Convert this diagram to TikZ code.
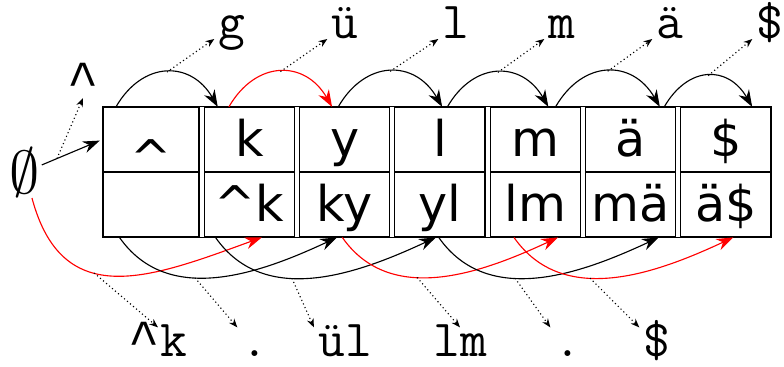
\documentclass[tikz,border=0pt]{standalone}
\usepackage{fontspec}
\usetikzlibrary{arrows.meta, positioning}
\newfontfamily\cellfont{DejaVu Sans}
\newfontfamily\caretfont{Liberation Mono}
\newcommand{\ttcaret}{{\caretfont\textasciicircum}}

\begin{document}
\begin{tikzpicture}[
    x=0.025cm, y=-0.025cm,
    cell/.style={rectangle, draw, line width=0.9pt,
        minimum width=2.25cm, minimum height=1.6cm, inner sep=0pt,
        text height=25pt, text depth=1pt,
        font=\cellfont\fontsize{35}{40}\selectfont},
    cell-first/.style={cell, minimum width=2.4cm},
    out-label/.style={inner sep=0.1cm, text height=18pt, text depth=7pt,
        font=\ttfamily\fontsize{37}{42}\selectfont},
    trans/.style={-{Stealth[length=0.42cm, width=0.3cm]}, line width=0.8pt},
    trans-red/.style={trans, red},
    emit/.style={-{Stealth[length=0.22cm, width=0.17cm]}, dotted, line width=0.8pt},
]
    \useasboundingbox (0,0) rectangle (784,367);

    % ---- NODES: unigram row ----
    \node[cell-first] (uni0) at (151,139.5) {\raisebox{-0.38em}{\textasciicircum}};
    \node[cell, right=0.1cm of uni0] (uni1) {k};
    \node[cell, right=0.1cm of uni1] (uni2) {y};
    \node[cell, right=0.1cm of uni2] (uni3) {l};
    \node[cell, right=0.1cm of uni3] (uni4) {m};
    \node[cell, right=0.1cm of uni4] (uni5) {ä};
    \node[cell, right=0.1cm of uni5] (uni6) {\$};

    % ---- NODES: bigram row ----
    \node[cell-first, below=0cm of uni0] (bi0) {};
    \node[cell, below=0cm of uni1] (bi1) {\textasciicircum k};
    \node[cell, below=0cm of uni2] (bi2) {ky};
    \node[cell, below=0cm of uni3] (bi3) {yl};
    \node[cell, below=0cm of uni4] (bi4) {lm};
    \node[cell, below=0cm of uni5] (bi5) {mä};
    \node[cell, below=0cm of uni6] (bi6) {ä\$};

    \draw[line width=0.9pt] (uni0.north west) rectangle (bi6.south east);

    % ---- NODES: start state and emitted symbols ----
    \node[inner sep=1pt] (empty) at (25,172) {\scalebox{1.73}{\Huge$\emptyset$}};

    \node[out-label, anchor=base] (out0) at (83,98) {\ttcaret};
    \node[out-label, anchor=base] (out1) at (232,39) {g};
    \node[out-label, anchor=base] (out2) at (345,39) {ü};
    \node[out-label, anchor=base] (out3) at (456,39) {l};
    \node[out-label, anchor=base] (out4) at (562,39) {m};
    \node[out-label, anchor=base] (out5) at (670,39) {ä};
    \node[out-label, anchor=base] (out6) at (770,39) {\$};

    \node[out-label, anchor=base] (bout1) at (158,357) {\ttcaret k};
    \node[out-label, anchor=base] (bout2) at (255,357) {.};
    \node[out-label, anchor=base] (bout3) at (345,357) {ül};
    \node[out-label, anchor=base] (bout4) at (460,357) {lm};
    \node[out-label, anchor=base] (bout5) at (568,357) {.};
    \node[out-label, anchor=base] (bout6) at (657,357) {\$};

    % ---- ARROWS: start ----
    \draw[trans, shorten >=2pt] (empty) -- coordinate[pos=.25] (s0) (uni0.west);

    % ---- ARROWS: transitions above the table ----
    \draw[trans] (uni0.137) to[out=60, in=120, looseness=1.35] coordinate[pos=.5] (t1) (uni1.134);
    \draw[trans-red] (uni1.122) to[out=60, in=120, looseness=1.35] coordinate[pos=.5] (t2) (uni2.111);
    \draw[trans] (uni2.101) to[out=60, in=120, looseness=1.35] coordinate[pos=.5] (t3) (uni3.86);
    \draw[trans] (uni3.77) to[out=60, in=120, looseness=1.35] coordinate[pos=.5] (t4) (uni4.68);
    \draw[trans] (uni4.58) to[out=60, in=120, looseness=1.35] coordinate[pos=.5] (t5) (uni5.48);
    \draw[trans] (uni5.44) to[out=60, in=120, looseness=1.4] coordinate[pos=.5] (t6) (uni6.51);

    % ---- ARROWS: transitions below the table ----
    \draw[trans-red] (empty) to[out=-75, in=200, looseness=1.3] coordinate[pos=.4] (b1) (bi1.291);
    \draw[trans] (bi0.226) to[out=-55, in=205] coordinate[pos=.4] (b2) (bi2.257);
    \draw[trans] (bi1.224) to[out=-55, in=205] coordinate[pos=.4] (b3) (bi3.263);
    \draw[trans-red] (bi2.266) to[out=-55, in=205] coordinate[pos=.4] (b4) (bi4.305);
    \draw[trans] (bi3.268) to[out=-55, in=205] coordinate[pos=.4] (b5) (bi5.311);
    \draw[trans-red] (bi4.237) to[out=-55, in=205] coordinate[pos=.4] (b6) (bi6.283);

    % ---- ARROWS: emitted symbols ----
    \draw[emit] (s0) -- (out0.base);
    \draw[emit] (t1) -- (out1.base west);
    \draw[emit] (t2) -- (out2.base west);
    \draw[emit] (t3) -- (out3.base west);
    \draw[emit] (t4) -- (out4.base west);
    \draw[emit] (t5) -- (out5.base west);
    \draw[emit] (t6) -- (out6.base west);

    \draw[emit] (b1) -- (bout1.north);
    \draw[emit] (b2) -- (bout2.north west);
    \draw[emit] (b3) -- (bout3.north west);
    \draw[emit] (b4) -- (bout4.north);
    \draw[emit] (b5) -- (bout5.north west);
    \draw[emit] (b6) -- (bout6.north west);

\end{tikzpicture}
\end{document}
